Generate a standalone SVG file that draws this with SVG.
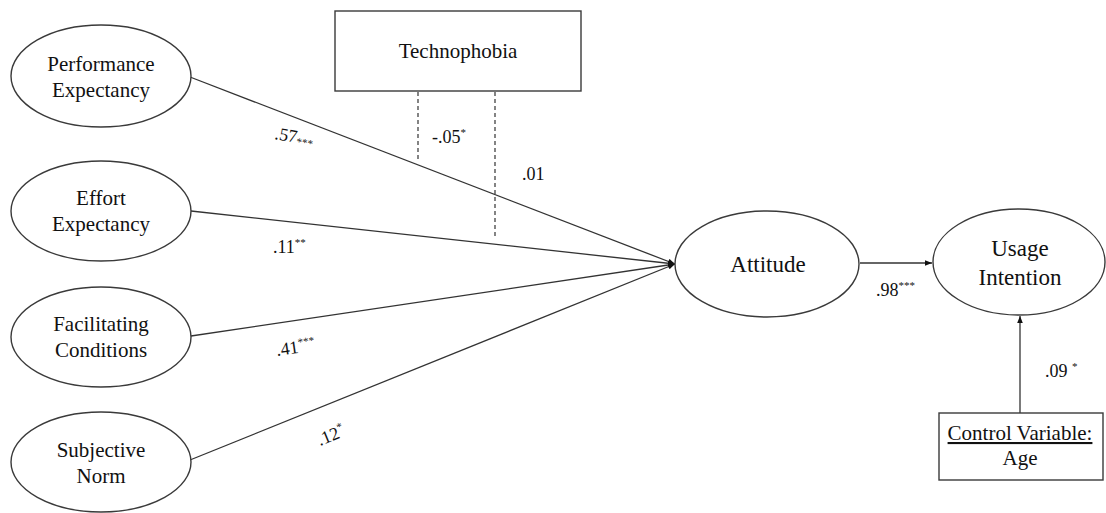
<svg xmlns="http://www.w3.org/2000/svg" width="1106" height="513" viewBox="0 0 1106 513">
  <style>
    .node { fill: #ffffff; stroke: #3a3a3a; stroke-width: 1.4; }
    text { font-family: "Liberation Serif", "Times New Roman", serif; fill: #111; }
    .lbl { font-size: 21px; text-anchor: middle; }
    .big { font-size: 23px; }
    .coef { font-size: 18px; }
    .sup { font-size: 11px; }
    .path { stroke: #333; stroke-width: 1.3; fill: none; }
    .mod { stroke: #333; stroke-width: 1.2; stroke-dasharray: 4 3; fill: none; }
  </style>
  <defs>
    <marker id="arrow" viewBox="0 0 10 10" refX="10" refY="5" markerWidth="7" markerHeight="7" markerUnits="userSpaceOnUse" orient="auto">
      <path d="M0,1 L10,5 L0,9 Z" fill="#111"/>
    </marker>
  </defs>

  <rect width="1106" height="513" fill="#ffffff"/>

  <!-- structural paths, moderation lines and their coefficients -->
  <g id="connectors">
    <line class="path" x1="190" y1="77" x2="675" y2="264" marker-end="url(#arrow)"/>
    <line class="path" x1="191" y1="211" x2="675" y2="264" marker-end="url(#arrow)"/>
    <line class="path" x1="191" y1="336" x2="675" y2="264" marker-end="url(#arrow)"/>
    <line class="path" x1="190" y1="460" x2="675" y2="264" marker-end="url(#arrow)"/>
    <line class="path" x1="860" y1="263" x2="932" y2="263" marker-end="url(#arrow)"/>
    <line class="path" x1="1020" y1="413" x2="1020" y2="316" marker-end="url(#arrow)"/>
    <line class="mod" x1="418" y1="92" x2="418" y2="160"/>
    <line class="mod" x1="495" y1="92" x2="495" y2="238"/>

    <text class="coef" transform="translate(274 139) rotate(10)">.57<tspan class="sup" dy="2">***</tspan></text>
    <text class="coef" x="432" y="143">-.05<tspan class="sup" dy="-7">*</tspan></text>
    <text class="coef" x="522" y="180">.01</text>
    <text class="coef" x="273" y="253">.11<tspan class="sup" dy="-7">**</tspan></text>
    <text class="coef" transform="translate(277 356) rotate(-8)">.41<tspan class="sup" dy="-7">***</tspan></text>
    <text class="coef" transform="translate(320 446) rotate(-22)">.12<tspan class="sup" dy="-7">*</tspan></text>
    <text class="coef" x="876" y="296">.98<tspan class="sup" dy="-7">***</tspan></text>
    <text class="coef" x="1045" y="377">.09 <tspan class="sup" dy="-7">*</tspan></text>
  </g>

  <g id="performance-expectancy">
    <ellipse class="node" cx="101" cy="76" rx="90" ry="51"/>
    <text class="lbl" x="101" y="71">Performance</text>
    <text class="lbl" x="101" y="97">Expectancy</text>
  </g>

  <g id="effort-expectancy">
    <ellipse class="node" cx="101" cy="211" rx="90" ry="50"/>
    <text class="lbl" x="101" y="205">Effort</text>
    <text class="lbl" x="101" y="231">Expectancy</text>
  </g>

  <g id="facilitating-conditions">
    <ellipse class="node" cx="101" cy="337" rx="90" ry="50"/>
    <text class="lbl" x="101" y="331">Facilitating</text>
    <text class="lbl" x="101" y="357">Conditions</text>
  </g>

  <g id="subjective-norm">
    <ellipse class="node" cx="101" cy="462" rx="90" ry="50"/>
    <text class="lbl" x="101" y="457">Subjective</text>
    <text class="lbl" x="101" y="483">Norm</text>
  </g>

  <g id="technophobia">
    <rect class="node" x="335" y="11" width="246" height="80"/>
    <text class="lbl" x="458" y="58">Technophobia</text>
  </g>

  <g id="attitude">
    <ellipse class="node" cx="767" cy="264" rx="92" ry="53"/>
    <text class="lbl big" x="768" y="272">Attitude</text>
  </g>

  <g id="usage-intention">
    <ellipse class="node" cx="1019" cy="262" rx="86" ry="53"/>
    <text class="lbl big" x="1020" y="256">Usage</text>
    <text class="lbl big" x="1020" y="285">Intention</text>
  </g>

  <g id="control-age">
    <rect class="node" x="939" y="413" width="164" height="67"/>
    <text class="lbl" x="1020" y="440" font-size="20" text-decoration="underline">Control Variable:</text>
    <text class="lbl" x="1020" y="465" font-size="20">Age</text>
  </g>
</svg>
